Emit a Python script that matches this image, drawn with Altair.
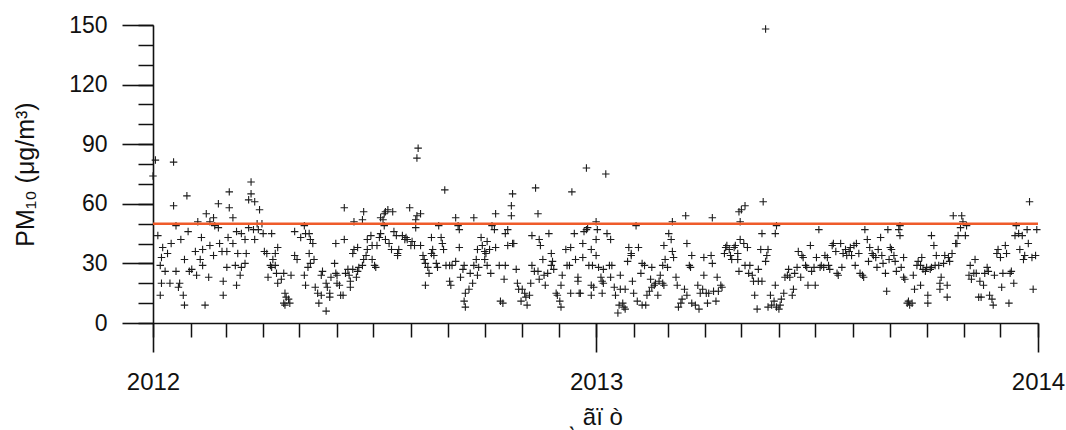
import altair as alt
import pandas as pd

# ---- data: day offset from 2012-01-01 and daily PM10 (ug/m3) ----
days_a = [0,2,4,6,6,7,7,8,10,12, 14,15,17,17,19,19,21,22,23,25, 26,26,28,29,30,32,35,36,37,39,
          40,41,41,43,44,46,47,47,50,50, 51,54,54,55,57,58,58,61,61,62, 63,63,66,66,68,69,69,70,72,73,
          73,76,76,77,79,79,81,81,83,84, 84,86,87,88,90,91,92,94,95,97, 98,98,99,101,101,102,103,103,106,108,
          108,109,109,110,112,113,114,117,117,119]
pm10_a = [74,82,44,29,14,33,20,38,26,35, 20,40,81,59,49,26,18,20,42,14, 32,9,64,46,26,27,36,24,51,32,
          43,37,29,9,55,23,51,39,53,34, 49,60,48,40,36,21,14,36,28,43, 66,58,53,40,29,46,19,35,24,45,
          28,42,30,35,62,48,71,65,47,61, 42,50,47,57,50,45,36,35,23,29, 45,28,32,35,29,25,38,20,22,25,
          10,15,9,13,12,10,24,46,34,32]

days_b = [122,125,125,126,126,128,129,129,130,130, 132,133,134,136,137,139,139,140,143,143,
          144,146,146,147,150,151,151,152,152,154, 155,157,158,158,159,161,162,163,163,165,
          165,166,166,168,169,169,170,173,173,174, 174,176,177,177,180,181,181,183,184,185,
          187,188,188,190,191,191,192,192,194,195, 197,198,199,201,202,202,203,206,208,209,
          210,212,213,214,216,217,217,218,218,219, 221,221,223,224,225,225,227,228,230,230,
          231,232,234,235,236,238,239,240]
pm10_b = [43,49,24,45,19,28,45,35,42,30, 40,32,18,15,10,14,24,26,6,20,
          18,15,13,23,30,25,40,24,20,19, 14,14,42,58,25,27,24,21,18,27,
          35,37,51,23,26,38,28,29,52,32, 56,34,37,42,44,39,32,29,28,39,
          43,45,53,52,55,49,56,42,57,40, 37,56,46,44,35,34,37,44,42,43,
          42,58,39,41,39,48,52,54,83,88, 55,39,34,32,30,19,28,25,35,43,
          37,34,30,28,49,43,40,37]

days_c = [241,242,245,245,246,247,250,250,252,253, 253,254,256,257,257,258,258,261,262,264,
          265,265,267,268,268,269,271,272,274,274, 275,276,276,278,279,280,282,283,283,286,
          287,289,290,291,291,293,293,296,296,297, 297,298,300,301,302,304,305,307,308,309,
          311,312,313,313,315,316,318,318,319,319, 320,322,323,324,326,327,329,329,330,331,
          333,334,336,337,337,338,341,342,344,345, 345,346,348,349,351,351,352,353,355,355,
          356,358,358,359,360,362,362,362]
pm10_c = [67,29,29,21,19,29,31,53,49,47, 38,23,27,29,11,8,15,17,25,20,
          29,53,32,37,24,28,43,39,36,32, 35,41,29,37,25,49,47,55,38,29,
          11,10,22,45,29,47,39,54,59,65, 40,40,27,20,17,11,17,15,13,9,
          14,20,44,29,26,68,55,26,42,22, 39,32,24,19,25,45,35,29,31,27,
          15,14,11,8,19,24,37,29,29,38, 15,66,45,32,21,23,15,15,40,33,
          46,47,78,48,29,37,19,14]

days_d = [363,364,366,366,366,367,368,370,371,371, 372,372,374,375,377,378,378,379,381,382,
          384,385,386,386,388,389,390,390,392,393, 395,395,396,397,399,400,401,403,404,404,
          406,407,408,410,411,412,412,414,415,417, 418,419,421,421,422,422,423,425,426,428,
          429,429,430,432,433,434,436,437,439,440, 441,441,443,444,445,445,448,450,451,452,
          454,455,455,457,458,459,461,462,462,463, 465,466,467,469,470,472,473,474,476,477,
          478,480,481,483,483,484,484,485]
pm10_d = [29,18,51,42,34,47,28,23,21,15, 27,20,75,45,29,42,23,29,18,14,
          5,9,24,17,10,8,7,17,31,38, 35,34,21,15,49,11,38,25,30,9,
          29,9,14,16,22,28,18,19,20,14, 21,24,29,20,39,19,32,28,45,42,
          51,36,33,23,19,8,10,12,17,54, 40,14,29,28,34,10,9,19,7,15,
          17,24,33,15,10,15,34,53,30,16, 11,23,16,19,18,35,38,39,37,34,
          32,38,39,35,32,26,56,42]

days_e = [485,486,488,489,489,491,492,493,495,496, 497,499,500,500,502,503,503,504,506,506,
          507,508,508,510,511,513,514,514,515,515, 517,518,519,521,522,524,525,526,528,529,
          530,532,533,535,536,537,539,540,541,543, 544,546,547,548,550,551,552,554,555,557,
          558,559,561,562,564,565,566,568,569,570, 572,573,575,576,577,579,580,581,583,584,
          586,587,588,590,591,592,594,595,597,598, 599,601,602,603,605,606,608]
pm10_e = [51,57,40,59,29,38,25,29,24,21, 14,7,27,21,37,21,45,61,31,148,
          34,37,8,14,9,11,19,45,49,8, 7,9,12,15,23,24,27,23,14,17,
          25,28,36,23,34,33,29,28,19,39, 26,28,19,33,47,28,29,28,34,33,
          29,27,39,40,36,25,24,40,28,35, 37,34,36,38,34,39,29,40,35,25,
          24,23,47,42,31,38,35,34,33,28, 37,43,34,30,25,16,32]

days_f = [607,609,610,612,613,614,616,617,617,618, 620,620,621,623,624,625,627,628,629,631,
          632,634,634,635,636,638,639,640,640,642, 643,643,645,646,647,649,650,650,651,653,
          654,656,656,657,658,660,661,663,664,665, 667,668,669,671,672,674,675,676,678,679,
          680,682,683,684,686,687,689,690,691,693, 694,695,697,698,700,701,702,704,705,707,
          708,709,711,712,713,715,716,718,719,720, 722,723,724,726,727,729,730]
pm10_f = [47,38,37,34,31,26,47,49,44,28, 33,23,22,10,11,9,10,24,17,29,
          31,29,19,33,27,26,28,10,14,27, 28,44,39,29,34,29,20,17,23,30,
          34,13,19,33,31,35,54,40,40,44, 48,54,51,44,49,24,29,22,25,32,
          25,13,21,13,19,25,28,26,14,12, 9,24,35,37,33,18,25,39,35,10,
          25,26,20,44,49,45,37,44,32,34, 47,40,61,33,17,34,47]

limit_value = [50]
year_labels = [2012, 2013, 2014]
y_major = [0, 30, 60, 90, 120, 150]
y_minor = list(range(0, 151, 10))
x_title = "ˎ ãï ò"
y_title = "PM₁₀ (μg/m³)"

days = days_a + days_b + days_c + days_d + days_e + days_f
pm10 = pm10_a + pm10_b + pm10_c + pm10_d + pm10_e + pm10_f
start = pd.Timestamp("2012-01-01")
df = pd.DataFrame({"date": [start + pd.Timedelta(days=d) for d in days], "pm10": pm10})
limit_df = pd.DataFrame({"limit": limit_value})

FONT = "Liberation Sans"
INK = "#111111"

year_ticks = [alt.DateTime(year=y, month=1, date=1) for y in year_labels]
month_ticks = [alt.DateTime(year=2012 + m // 12, month=m % 12 + 1, date=1) for m in range(25)]

xscale = alt.Scale(domain=[year_ticks[0], year_ticks[-1]])
yscale = alt.Scale(domain=[0, 150], nice=False)

minor = alt.Chart(df).mark_point(opacity=0).encode(
    x=alt.X("date:T", scale=xscale,
            axis=alt.Axis(orient="bottom", values=month_ticks, labels=False, domain=False,
                          tickSize=14, tickWidth=1.5, tickColor=INK, title=None, grid=False)),
    y=alt.Y("pm10:Q", scale=yscale,
            axis=alt.Axis(orient="left", values=y_minor, labels=False, domain=False,
                          tickSize=15, tickWidth=1.5, tickColor=INK, title=None, grid=False)),
)

points = alt.Chart(df).mark_point(
    shape="M-1,0L1,0M0,-1L0,1", size=56, filled=False, color="#1c1c1c", strokeWidth=1.1, opacity=1
).encode(
    x=alt.X("date:T", scale=xscale,
            axis=alt.Axis(orient="bottom", values=year_ticks, format="%Y", grid=False,
                          tickSize=29, tickWidth=1.6, tickColor=INK,
                          domainWidth=1.6, domainColor=INK,
                          labelPadding=18, labelFont=FONT, labelFontSize=24, labelColor=INK,
                          labelFlush=False, labelOverlap=False,
                          title=x_title, titleFont=FONT, titleFontSize=24, titleFontWeight="normal",
                          titleColor=INK, titleX=442, titleY=101, titleBaseline="alphabetic",
                          titleAlign="center")),
    y=alt.Y("pm10:Q", scale=yscale,
            axis=alt.Axis(orient="left", values=y_major, grid=False,
                          tickSize=31, tickWidth=1.6, tickColor=INK,
                          domainWidth=1.6, domainColor=INK,
                          labelPadding=15, labelFont=FONT, labelFontSize=23, labelColor=INK,
                          labelFlush=False,
                          title=y_title, titleFont=FONT, titleFontSize=25, titleFontWeight="normal",
                          titleColor=INK, titleX=-128, titleY=149, titleAngle=270,
                          titleAlign="center", titleBaseline="middle")),
)

rule = alt.Chart(limit_df).mark_rule(color="#EF5B2A", strokeWidth=2.5).encode(
    y=alt.Y("limit:Q", scale=yscale, axis=None)
)

chart = alt.layer(minor, points, rule).resolve_axis(
    x="independent", y="independent"
).properties(
    width=885, height=298,
    padding={"left": 153, "top": 25, "right": 28, "bottom": 107},
    autosize=alt.AutoSizeParams(type="none"),
    background="white",
).configure_view(strokeWidth=0)

chart.save("out.html", embed_options={"renderer": "svg", "actions": False})
